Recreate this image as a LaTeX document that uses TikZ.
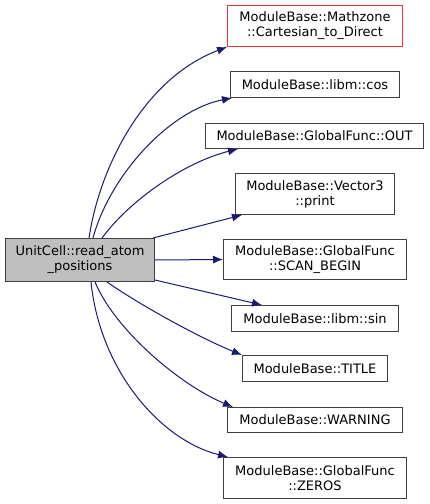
\documentclass[tikz,border=0pt]{standalone}
\usepackage{fontspec}
\setmainfont{DejaVu Sans}
\usetikzlibrary{arrows.meta}
\definecolor{edgeblue}{HTML}{191970}
\definecolor{boxgray}{HTML}{BFBFBF}
\definecolor{boxline}{HTML}{404040}
\definecolor{boxred}{HTML}{FF3030}
\tikzset{
  fn/.style={draw=boxline, line width=1pt, anchor=north west, inner sep=0pt, align=center,
    font=\fontsize{13}{15}\selectfont},
  edge/.style={draw=edgeblue, line width=1pt, -{Latex[length=10pt,width=8pt]}}
}
\begin{document}
\begin{tikzpicture}[x=1pt,y=-1pt]
\useasboundingbox (0,0) rectangle (429,504);
\node[fn, fill=boxgray, minimum width=149pt, minimum height=43pt] (src) at (5,238) {UnitCell::read\_atom\\\_positions};
\node[fn, draw=boxred, minimum width=175pt, minimum height=41pt] (mz) at (227,5) {ModuleBase::Mathzone\\::Cartesian\_to\_Direct};
\node[fn, minimum width=169pt, minimum height=26pt] (cos) at (230,71) {ModuleBase::libm::cos};
\node[fn, minimum width=218pt, minimum height=25pt] (out) at (205,123) {ModuleBase::GlobalFunc::OUT};
\node[fn, minimum width=159pt, minimum height=41pt] (v3) at (235,173) {ModuleBase::Vector3\\::print};
\node[fn, minimum width=183pt, minimum height=40pt] (scan) at (223,239) {ModuleBase::GlobalFunc\\::SCAN\_BEGIN};
\node[fn, minimum width=167pt, minimum height=26pt] (sin) at (231,305) {ModuleBase::libm::sin};
\node[fn, minimum width=145pt, minimum height=26pt] (title) at (242,355) {ModuleBase::TITLE};
\node[fn, minimum width=175pt, minimum height=25pt] (warn) at (227,407) {ModuleBase::WARNING};
\node[fn, minimum width=183pt, minimum height=41pt] (zeros) at (223,457) {ModuleBase::GlobalFunc\\::ZEROS};

\draw[edge] ([xshift=84pt]src.north west) .. controls (100,165) and (145,78) .. (mz.south west);
\draw[edge] ([xshift=88pt]src.north west) .. controls (110,175) and (170,110) .. ([xshift=2pt]cos.south west);
\draw[edge] ([xshift=97pt]src.north west) .. controls (130,200) and (185,162) .. ([xshift=33pt]out.south west);
\draw[edge] ([xshift=-2pt]src.north east) -- ([xshift=7pt]v3.south west);
\draw[edge] (src.east) -- (scan.west);
\draw[edge] ([yshift=2pt]src.south east) -- ([xshift=31pt]sin.north west);
\draw[edge] ([xshift=102pt]src.south west) .. controls (140,305) and (200,338) .. (title.north west);
\draw[edge] ([xshift=90pt]src.south west) .. controls (115,330) and (180,385) .. ([xshift=6pt]warn.north west);
\draw[edge] ([xshift=86pt]src.south west) .. controls (100,370) and (160,440) .. ([xshift=5pt]zeros.north west);
\end{tikzpicture}
\end{document}
